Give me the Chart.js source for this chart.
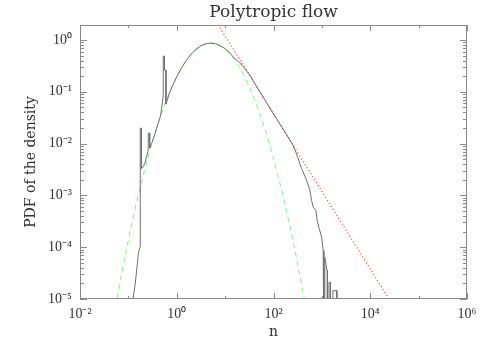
<!DOCTYPE html>
<html>
<head>
<meta charset="utf-8">
<script src="https://cdn.jsdelivr.net/npm/chart.js@4/dist/chart.umd.min.js"></script>
<style>
  html, body { margin: 0; padding: 0; background: #fff; }
</style>
</head>
<body>
<canvas id="pdfChart" width="491" height="350"></canvas>
<script>
// density histogram (gray step curve)
const histN = [0.1245, 0.137, 0.147, 0.154, 0.162, 0.176, 0.176, 0.186, 0.186, 0.2, 0.22, 0.242, 0.2576, 0.2576, 0.2754, 0.2754,
  0.308, 0.355, 0.409, 0.46, 0.488, 0.526, 0.526, 0.555, 0.555, 0.598, 0.598, 0.7, 0.85, 1.0, 1.26, 1.58, 2.0, 2.5, 3.16, 4.0,
  5.0, 6.3, 7.9, 10, 12.6, 14.7, 20.2, 25, 32.5, 50, 84, 150, 252, 300, 381, 483, 565, 612, 661, 751, 800, 879, 986, 1064,
  1100, 1100, 1150, 1150, 1268, 1300, 1300, 1400, 1400, 1500, 1500, 1690, 1690, 2040, 2040];
const histPdf = [1.0e-5, 1.8e-5, 3.3e-5, 5.1e-5, 7.9e-5, 1.04e-4, 0.0199, 0.0199, 3.3e-3, 3.5e-3, 4.2e-3, 6.0e-3, 7.4e-3, 0.0159, 0.0159, 8.2e-3,
  0.0105, 0.0155, 0.024, 0.034, 0.048, 0.085, 0.49, 0.49, 0.263, 0.263, 0.058, 0.092, 0.142, 0.195, 0.29, 0.405, 0.535, 0.66, 0.77, 0.845,
  0.87, 0.845, 0.78, 0.68, 0.56, 0.47, 0.36, 0.29, 0.21, 0.107, 0.0486, 0.0205, 9.4e-3, 6.3e-3, 3.3e-3, 1.96e-3, 1.26e-3, 8.0e-4, 6.0e-4, 5.15e-4, 3.3e-4, 2.3e-4, 1.57e-4, 8.7e-5,
  8.7e-5, 1e-6, 1e-6, 6.4e-5, 3.6e-5, 3.6e-5, 1e-6, 1e-6, 2.1e-5, 2.1e-5, 1e-6, 1e-6, 1.45e-5, 1.45e-5, 1e-6];

// lognormal fit (green dashed)
const fitN = [0.0501, 0.0631, 0.1, 0.158, 0.251, 0.398, 0.631, 1, 1.585, 2.512, 3.981, 5.012, 6.31, 10, 15.85, 25.12, 39.81, 63.1, 100, 158.5, 251.2, 398.1, 501.2];
const fitPdf = [4.7e-6, 1.54e-5, 1.37e-4, 9.5e-4, 5.2e-3, 0.0223, 0.075, 0.198, 0.41, 0.665, 0.849, 0.875, 0.849, 0.665, 0.41, 0.198, 0.075, 0.0223, 5.2e-3, 9.5e-4, 1.37e-4, 1.54e-5, 4.7e-6];

// power-law tail (red dotted)
const powN = [6, 30000];
const powPdf = [2.565, 7.3e-6];

const xDecades = [-2, -1, 0, 1, 2, 3, 4, 5, 6];
const yDecades = [-5, -4, -3, -2, -1, 0];

const sup = { '-': '\u207B', '0': '\u2070', '1': '\u00B9', '2': '\u00B2', '3': '\u00B3', '4': '\u2074', '5': '\u2075', '6': '\u2076' };
function powLabel(e) {
  return '10' + String(e).split('').map(c => sup[c]).join('');
}

const pts = (xs, ys) => xs.map((x, i) => ({ x: x, y: ys[i] }));

// frame with inward ticks on all four sides
const framePlugin = {
  id: 'frame',
  afterDatasetsDraw(chart) {
    const { ctx, chartArea: a, scales: { x, y } } = chart;
    ctx.save();
    ctx.strokeStyle = '#8a8a8a';
    ctx.lineWidth = 1;
    ctx.strokeRect(a.left + 0.5, a.top + 0.5, a.right - a.left - 1, a.bottom - a.top - 1);
    ctx.beginPath();
    xDecades.forEach(e => {
      const px = Math.round(x.getPixelForValue(Math.pow(10, e))) + 0.5;
      const l = e % 2 === 0 ? 6 : 3;
      ctx.moveTo(px, a.bottom); ctx.lineTo(px, a.bottom - l);
      ctx.moveTo(px, a.top); ctx.lineTo(px, a.top + l);
    });
    yDecades.forEach(e => {
      for (let m = 1; m <= 9; m++) {
        const v = m * Math.pow(10, e);
        if (v > y.max) break;
        const py = Math.round(y.getPixelForValue(v)) + 0.5;
        const l = m === 1 ? 7 : 4;
        ctx.moveTo(a.left, py); ctx.lineTo(a.left + l, py);
        ctx.moveTo(a.right, py); ctx.lineTo(a.right - l, py);
      }
    });
    ctx.stroke();
    ctx.restore();
  }
};

new Chart(document.getElementById('pdfChart'), {
  type: 'line',
  data: {
    datasets: [
      {
        label: 'histogram',
        data: pts(histN, histPdf),
        borderColor: '#707070',
        borderWidth: 1,
        pointRadius: 0,
        tension: 0
      },
      {
        label: 'lognormal',
        data: pts(fitN, fitPdf),
        borderColor: '#7cf57c',
        borderWidth: 1,
        borderDash: [5, 4],
        pointRadius: 0,
        cubicInterpolationMode: 'monotone'
      },
      {
        label: 'power law',
        data: pts(powN, powPdf),
        borderColor: '#ff3b3b',
        borderWidth: 1.3,
        borderDash: [1, 2.5],
        pointRadius: 0
      }
    ]
  },
  options: {
    responsive: false,
    animation: false,
    devicePixelRatio: 1,
    layout: { padding: { right: 24 } },
    plugins: {
      legend: { display: false },
      tooltip: { enabled: false },
      title: {
        display: true,
        text: 'Polytropic flow',
        fullSize: false,
        color: '#333',
        font: { family: 'DejaVu Serif', size: 17, weight: 'normal' },
        padding: { top: 2, bottom: 2.6 }
      }
    },
    scales: {
      x: {
        type: 'logarithmic',
        min: 0.01,
        max: 1e6,
        afterBuildTicks: s => { s.ticks = xDecades.map(e => ({ value: Math.pow(10, e) })); },
        afterFit: s => { s.height = 51; },
        grid: { display: false, drawTicks: false },
        border: { display: false },
        ticks: {
          autoSkip: false,
          maxRotation: 0,
          padding: 7,
          color: '#333',
          font: { family: 'Liberation Serif', size: 14 },
          callback: v => {
            const e = Math.round(Math.log10(v));
            return e % 2 === 0 ? powLabel(e) : '';
          }
        },
        title: {
          display: true,
          text: 'n',
          color: '#333',
          font: { family: 'DejaVu Serif', size: 14 },
          padding: { top: 0, bottom: 9 }
        }
      },
      y: {
        type: 'logarithmic',
        min: 1e-5,
        max: 1.95,
        afterBuildTicks: s => { s.ticks = yDecades.map(e => ({ value: Math.pow(10, e) })); },
        afterFit: s => { s.width = 80; },
        grid: { display: false, drawTicks: false },
        border: { display: false },
        ticks: {
          autoSkip: false,
          padding: 8,
          color: '#333',
          font: { family: 'Liberation Serif', size: 14 },
          callback: v => powLabel(Math.round(Math.log10(v)))
        },
        title: {
          display: true,
          text: 'PDF of the density',
          color: '#333',
          font: { family: 'DejaVu Serif', size: 14 },
          padding: { top: 23, bottom: 0 }
        }
      }
    }
  },
  plugins: [framePlugin]
});
</script>
</body>
</html>
